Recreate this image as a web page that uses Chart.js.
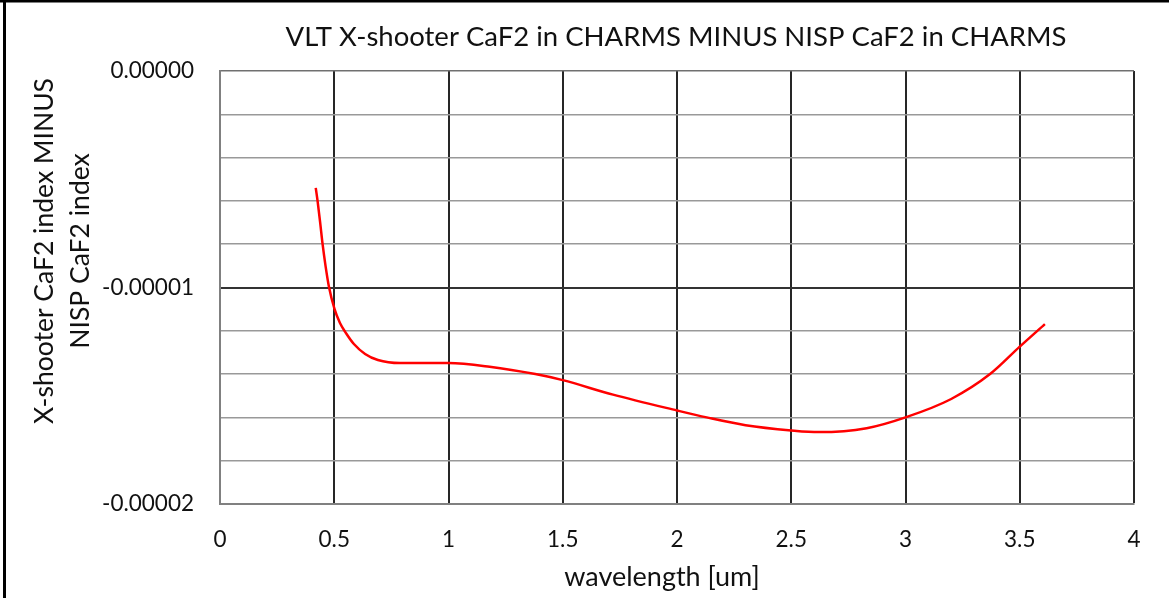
<!DOCTYPE html>
<html><head><meta charset="utf-8">
<script src="https://cdn.jsdelivr.net/npm/chart.js@4"></script>
<style>html,body{margin:0;padding:0;background:#fff;overflow:hidden}</style>
</head><body>
<canvas id="c" width="1169" height="598"></canvas>
<script>
// ---- data ----
const chartTitle = "VLT X-shooter CaF2 in CHARMS MINUS NISP CaF2 in CHARMS";
const xAxisTitle = "wavelength [um]";
const yAxisTitle = ["X-shooter CaF2 index MINUS", "NISP CaF2 index"];
const wavelength = [0.419, 0.427, 0.438, 0.449, 0.462, 0.477, 0.501, 0.525, 0.551, 0.586, 0.635, 0.691, 0.788, 1.0, 1.18, 1.38, 1.5, 1.72, 2.0, 2.13, 2.3, 2.5, 2.62, 2.83, 3.0, 3.2, 3.37, 3.5, 3.61];
const indexDiff = [-0.0000054, -0.0000060, -0.00000697, -0.0000080, -0.00000901, -0.00000998, -0.00001099, -0.00001164, -0.0000121, -0.00001261, -0.00001307, -0.00001335, -0.00001349, -0.00001349, -0.00001366, -0.00001400, -0.00001428, -0.00001495, -0.00001568, -0.00001600, -0.00001636, -0.0000166, -0.00001668, -0.0000165, -0.0000160, -0.00001515, -0.0000140, -0.00001273, -0.00001169];
const xTicks = [0, 0.5, 1, 1.5, 2, 2.5, 3, 3.5, 4];
const xTickLabels = ["0", "0.5", "1", "1.5", "2", "2.5", "3", "3.5", "4"];
const yTicks = [0, -0.000002, -0.000004, -0.000006, -0.000008, -0.00001, -0.000012, -0.000014, -0.000016, -0.000018, -0.00002];
const yTickLabels = ["0.00000", "", "", "", "", "-0.00001", "", "", "", "", "-0.00002"];

const FONT = "Lato, 'Open Sans', sans-serif";

const decor = {
  id: 'decor',
  beforeDraw(chart) {
    const ctx = chart.ctx;
    ctx.save();
    ctx.fillStyle = '#fff';
    ctx.fillRect(0, 0, chart.width, chart.height);
    ctx.fillStyle = '#000';
    ctx.fillRect(0, 0, chart.width, 2.5);
    ctx.fillRect(3, 0, 3, chart.height);
    ctx.restore();
  },
  afterDraw(chart) {
    const ctx = chart.ctx;
    const ca = chart.chartArea;
    const cx = (ca.left + ca.right) / 2;
    ctx.save();
    ctx.fillStyle = '#111';
    ctx.textAlign = 'center';
    ctx.textBaseline = 'middle';
    ctx.font = "27.5px " + FONT;
    ctx.fillText(chartTitle, cx - 1, 37);
    ctx.font = "27px " + FONT;
    ctx.fillText(xAxisTitle, cx - 15, 577);
    ctx.translate(0, 251);
    ctx.rotate(-Math.PI / 2);
    ctx.font = "26.5px " + FONT;
    ctx.fillText(yAxisTitle[0], 0, 44);
    ctx.fillText(yAxisTitle[1], 0, 80);
    ctx.restore();
  }
};

new Chart(document.getElementById('c'), {
  type: 'line',
  data: {
    datasets: [{
      data: wavelength.map((w, i) => ({ x: w, y: indexDiff[i] })),
      borderColor: '#ff0000',
      borderWidth: 2.5,
      pointRadius: 0,
      fill: false,
      cubicInterpolationMode: 'monotone'
    }]
  },
  plugins: [decor],
  options: {
    responsive: false,
    animation: false,
    layout: { padding: { left: 0, top: 71, right: 35, bottom: 0 } },
    plugins: { legend: { display: false }, tooltip: { enabled: false }, title: { display: false } },
    scales: {
      x: {
        type: 'linear', min: 0, max: 4,
        afterBuildTicks: s => { s.ticks = xTicks.map(v => ({ value: v })); },
        afterFit: s => { s.height = 94; },
        ticks: {
          padding: 22,
          color: '#111',
          font: { family: FONT, size: 22.5 },
          maxRotation: 0,
          callback: (v, i) => xTickLabels[i]
        },
        grid: {
          drawTicks: false,
          color: ctx => ctx.index === 0 ? '#808080' : '#262626',
          lineWidth: ctx => ctx.index === 0 ? 1.5 : 2
        },
        border: { display: true, color: '#808080', width: 2 }
      },
      y: {
        type: 'linear', min: -0.00002, max: 0,
        afterBuildTicks: s => { s.ticks = yTicks.map(v => ({ value: v })); },
        afterFit: s => { s.width = 220; },
        ticks: {
          padding: 26,
          color: '#111',
          font: { family: FONT, size: 22.5 },
          autoSkip: false,
          callback: (v, i) => yTickLabels[i]
        },
        grid: {
          drawTicks: false,
          color: ctx => (ctx.index === 5) ? '#333333' : (ctx.index === 0 || ctx.index === 10) ? '#707070' : '#999999',
          lineWidth: ctx => (ctx.index === 5) ? 2 : 1.5
        },
        border: { display: true, color: '#808080', width: 2 }
      }
    }
  }
});
</script>
</body></html>
